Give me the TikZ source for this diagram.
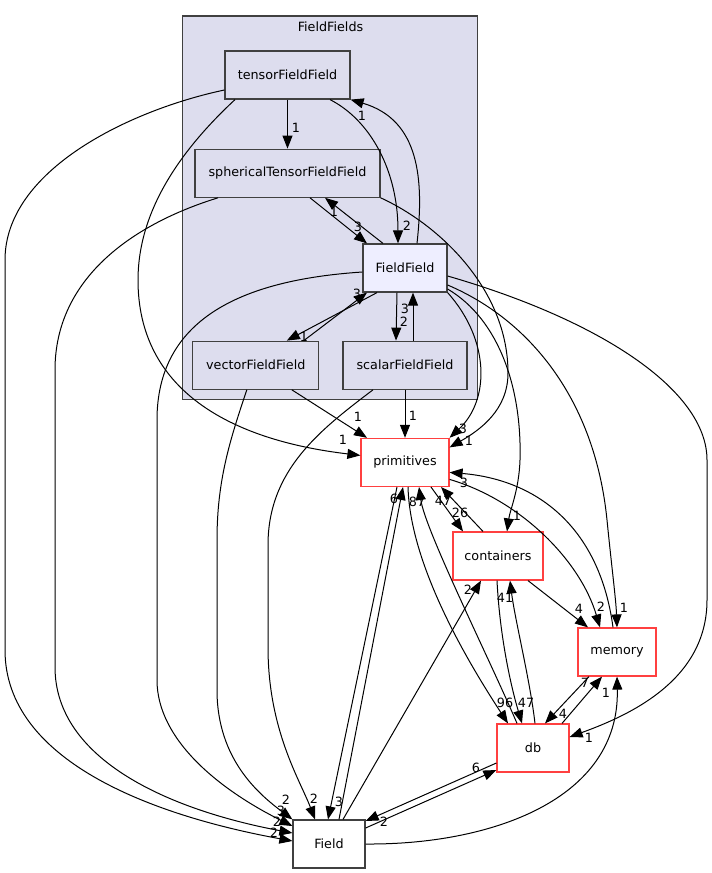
\documentclass[tikz,border=0pt]{standalone}
\usepackage{fontspec}
\setmainfont{DejaVu Sans}
\usetikzlibrary{arrows.meta, positioning, fit, backgrounds}
\definecolor{clusterfill}{HTML}{DDDDEE}
\definecolor{mainfill}{HTML}{EEEEFF}
\definecolor{dirborder}{HTML}{404040}
\definecolor{extborder}{HTML}{FF4040}

\begin{document}
\begin{tikzpicture}[
    x=1pt, y=-1pt,
    font=\fontsize{12.75}{15}\selectfont,
    % Styles embedded for portability
    dir_box/.style={rectangle, minimum height=48pt, inner sep=2pt, align=center, draw=dirborder, fill=clusterfill, line width=1.2pt},
    dir_main/.style={dir_box, fill=mainfill},
    dir_ext/.style={dir_box, draw=extborder, fill=white},
    dir_plain/.style={dir_box, fill=white},
    cluster/.style={rectangle, draw=dirborder, fill=clusterfill, line width=1.2pt, inner sep=10pt},
    dep/.style={draw, line width=1pt, -{Triangle[length=13pt, width=10pt]}},
    dep_lbl/.style={inner sep=0pt}
]
    \useasboundingbox (0,0) rectangle (712,873);

    % --- FIELDFIELDS DIRECTORY ---
    \node [dir_box, minimum width=125pt] (tensor) at (287.5,75) {tensorFieldField};
    \node [dir_box, minimum width=185pt, below=49pt of tensor] (spherical) {sphericalTensorFieldField};
    \node [dir_main, minimum width=84pt] (ffield) at (405,268) {FieldField};
    \node [dir_box, minimum width=124pt, below=48pt of ffield] (scalar) {scalarFieldField};
    \node [dir_box, minimum width=126pt, left=23pt of scalar] (vector) {vectorFieldField};

    % --- OTHER DIRECTORIES ---
    \node [dir_ext, minimum width=88pt, below=48pt of scalar] (prim) {primitives};
    \node [dir_ext, minimum width=90pt] (cont) at (498,556) {containers};
    \node [dir_ext, minimum width=78pt] (memory) at (617,652) {memory};
    \node [dir_ext, minimum width=72pt] (db) at (533,748) {db};
    \node [dir_plain, minimum width=72pt] (field) at (329,844) {Field};

    % --- CONNECTIONS ---

    % Inside FieldFields
    \draw [dep] (tensor) -- (spherical) node[dep_lbl] at (296,128) {1};
    \draw [dep] ([xshift=42.5pt]tensor.south) .. controls (370,120) and (398,170) .. ([xshift=-7pt]ffield.north) node[dep_lbl] at (407,226) {2};
    \draw [dep] ([xshift=12pt]ffield.north) .. controls (424,180) and (420,120) .. (tensor.south east) node[dep_lbl] at (362,116) {1};
    \draw [dep] ([xshift=22.5pt]spherical.south) -- ([xshift=-38pt]ffield.north) node[dep_lbl] at (358,227) {3};
    \draw [dep] ([xshift=-22pt]ffield.north) -- ([xshift=37.5pt]spherical.south) node[dep_lbl] at (334,212) {1};
    \draw [dep] ([xshift=-28pt]ffield.south) -- ([xshift=31pt]vector.north) node[dep_lbl] at (304,337) {1};
    \draw [dep] ([xshift=48pt]vector.north) -- ([xshift=-38pt]ffield.south) node[dep_lbl] at (357,294) {3};
    \draw [dep] ([xshift=-8pt]ffield.south) -- ([xshift=-9pt]scalar.north) node[dep_lbl] at (404,322) {2};
    \draw [dep] ([xshift=8pt]scalar.north) -- ([xshift=8pt]ffield.south) node[dep_lbl] at (405,309) {3};

    % Into primitives
    \draw [dep] ([xshift=-52.5pt]tensor.south) .. controls (170,160) and (138,220) .. (138,280) .. controls (138,390) and (230,440) .. ([yshift=7pt]prim.west) node[dep_lbl] at (343,440) {1};
    \draw [dep] (spherical.south east) .. controls (440,225) and (508,290) .. (508,373) .. controls (508,410) and (480,430) .. ([yshift=15pt]prim.east) node[dep_lbl] at (469,441) {1};
    \draw [dep] (ffield.south east) .. controls (490,340) and (490,400) .. (prim.north east) node[dep_lbl] at (463,429) {3};
    \draw [dep] ([xshift=36pt]vector.south) -- ([xshift=-38pt]prim.north) node[dep_lbl] at (358,417) {1};
    \draw [dep] (scalar) -- (prim) node[dep_lbl] at (413,416) {1};

    % Into Field (long way round on the left)
    \draw [dep] ([yshift=-15pt]tensor.west) .. controls (130,110) and (5,170) .. (5,260) -- (5,650) .. controls (5,760) and (150,815) .. ([yshift=3pt]field.west) node[dep_lbl] at (274,833) {2};
    \draw [dep] ([xshift=-69.5pt]spherical.south) .. controls (130,225) and (55,280) .. (55,370) -- (55,667) .. controls (55,760) and (170,810) .. ([yshift=11pt]field.west) node[dep_lbl] at (277,822) {2};
    \draw [dep] ([yshift=-4pt]ffield.west) .. controls (240,280) and (157,320) .. (157,420) -- (157,680) .. controls (157,740) and (220,790) .. ([yshift=18pt]field.west) node[dep_lbl] at (281,811) {3};
    \draw [dep] ([xshift=-9pt]vector.south) .. controls (230,440) and (217,480) .. (217,540) -- (217,690) .. controls (217,760) and (260,795) .. (field.north west) node[dep_lbl] at (286,800) {2};
    \draw [dep] ([xshift=-32pt]scalar.south) .. controls (320,430) and (268,470) .. (268,545) -- (268,647) .. controls (268,730) and (300,780) .. ([xshift=-14pt]field.north) node[dep_lbl] at (314,799) {2};
    \draw [dep] ([xshift=-8pt]prim.south) -- ([xshift=-1pt]field.north) node[dep_lbl] at (339,802) {3};
    \draw [dep] ([xshift=10pt]field.north) -- ([xshift=-2pt]prim.south) node[dep_lbl] at (394,499) {6};

    % FieldField to the right-hand directories
    \draw [dep] ([yshift=-21pt]ffield.east) .. controls (500,320) and (522,390) .. (520,460) .. controls (519,490) and (510,510) .. ([xshift=9pt]cont.north) node[dep_lbl] at (517,516) {1};
    \draw [dep] ([yshift=-17pt]ffield.east) .. controls (530,320) and (595,400) .. (607,520) .. controls (612,570) and (616,600) .. (memory.north) node[dep_lbl] at (624,608) {1};
    \draw [dep] ([yshift=-8pt]ffield.east) .. controls (600,320) and (707,390) .. (707,460) -- (707,600) .. controls (707,680) and (630,715) .. ([yshift=11pt]db.east) node[dep_lbl] at (589,738) {1};

    % Among the other directories
    \draw [dep] ([xshift=26pt]prim.south) -- ([xshift=-35pt]cont.north) node[dep_lbl] at (460,513) {26};
    \draw [dep] ([xshift=-15pt]cont.north) -- ([xshift=36pt]prim.south) node[dep_lbl] at (443,501) {47};
    \draw [dep] ([xshift=3pt]prim.south) .. controls (410,560) and (460,650) .. ([xshift=-25pt]db.north) node[dep_lbl] at (505,703) {96};
    \draw [dep] ([xshift=-16pt]db.north) .. controls (490,660) and (425,530) .. ([xshift=14pt]prim.south) node[dep_lbl] at (417,502) {87};
    \draw [dep] ([yshift=-17pt]prim.east) .. controls (520,500) and (580,560) .. ([xshift=-17pt]memory.north) node[dep_lbl] at (601,607) {2};
    \draw [dep] ([xshift=-4pt]memory.north) .. controls (600,530) and (540,480) .. ([yshift=-10pt]prim.east) node[dep_lbl] at (464,483) {3};
    \draw [dep] ([xshift=-1pt]cont.south) .. controls (500,640) and (512,690) .. ([xshift=-11pt]db.north) node[dep_lbl] at (526,703) {47};
    \draw [dep] ([xshift=2pt]db.north) .. controls (530,680) and (515,620) .. ([xshift=12pt]cont.south) node[dep_lbl] at (505,598) {41};
    \draw [dep] ([xshift=30pt]cont.south) -- ([xshift=-29pt]memory.north) node[dep_lbl] at (579,609) {4};
    \draw [dep] ([xshift=14pt]field.north) -- ([xshift=-17pt]cont.south) node[dep_lbl] at (468,590) {2};
    \draw [dep] ([xshift=-28pt]memory.south) -- ([xshift=12pt]db.north) node[dep_lbl] at (563,714) {4};
    \draw [dep] ([xshift=29pt]db.north) -- ([xshift=-15pt]memory.south) node[dep_lbl] at (585,683) {7};
    \draw [dep] (field.east) .. controls (490,845) and (620,800) .. (memory.south) node[dep_lbl] at (606,693) {1};
    \draw [dep] ([yshift=16pt]field.east) -- ([yshift=-22pt]db.west) node[dep_lbl] at (476,768) {6};
    \draw [dep] ([yshift=-15pt]db.west) -- ([yshift=23pt]field.east) node[dep_lbl] at (384,822) {2};

    % --- GROUPING & BACKGROUND ---
    \coordinate (ff_top) at (330.5,26);
    \begin{scope}[on background layer]
        \node [cluster, fit=(ff_top) (tensor) (spherical) (vector) (scalar) (ffield)] (ff_zone) {};
    \end{scope}
    \node (ff_label) at (330.5,27) {FieldFields};

\end{tikzpicture}
\end{document}
